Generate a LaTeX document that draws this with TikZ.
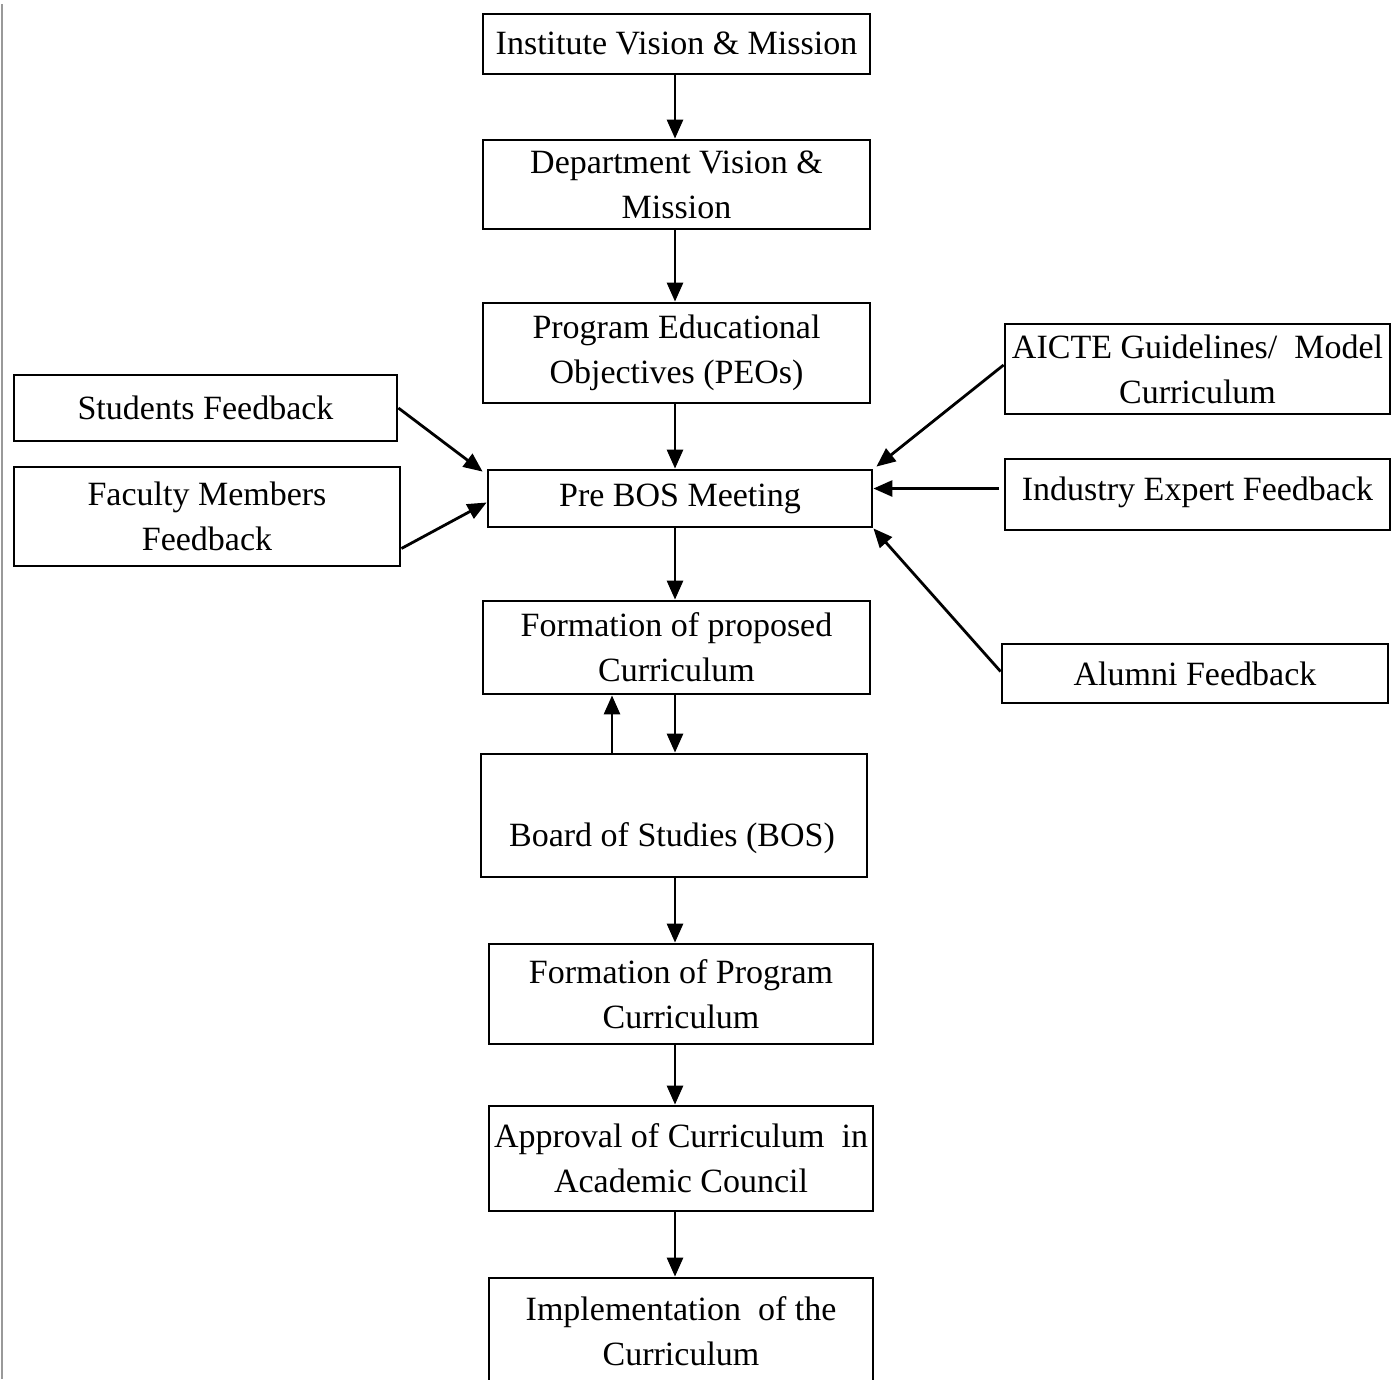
\documentclass[tikz,border=0pt]{standalone}
\usepackage{fontspec}
\setmainfont{Liberation Serif}
\usetikzlibrary{arrows.meta,calc}
\begin{document}
\begin{tikzpicture}[x=1pt,y=-1pt,
  box/.style={draw,line width=2.8pt,inner sep=0pt,align=center,
    font=\fontsize{34}{45}\selectfont},
  link/.style={line width=2.8pt,-{Triangle[length=19pt,width=16pt]}}]
\useasboundingbox (0,0) rectangle (1391,1379);
\clip (0,0) rectangle (1391,1379);
% thin rule along the left edge
\draw[line width=2pt,black!40] (2,4) -- (2,1379);
% main column
\node[box,minimum width=387,minimum height=60] (inst) at (676.5,44) {\raisebox{2pt}{Institute Vision \& Mission}};
\node[box,minimum width=387,minimum height=89] (dept) at (676.5,184.5) {Department Vision \&\\Mission};
\node[box,minimum width=387,minimum height=100] (peo) at (676.5,353) {\raisebox{-3pt}{Program Educational}\\\raisebox{-3pt}{Objectives (PEOs)}};
\node[box,minimum width=384,minimum height=57] (pre) at (680,498.5) {Pre BOS Meeting};
\node[box,minimum width=387,minimum height=93] (prop) at (676.5,647.5) {Formation of proposed\\Curriculum};
\node[box,minimum width=386,minimum height=123] (bos) at (674,815.5) {};
\node[font=\fontsize{34}{45}\selectfont,inner sep=0pt] (bostext) at (672,838) {Board of Studies (BOS)};
\node[box,minimum width=384,minimum height=100] (prog) at (681,994) {Formation of Program\\Curriculum};
\node[box,minimum width=384,minimum height=105] (appr) at (681,1158.5) {Approval of Curriculum\ \ in\\Academic Council};
\node[box,minimum width=384,minimum height=106] (impl) at (681,1331) {Implementation\ \ of the\\Curriculum};
% feedback sources on the left
\node[box,minimum width=383,minimum height=66] (stu) at (205.5,408) {Students Feedback};
\node[box,minimum width=386,minimum height=99] (fac) at (207,516.5) {Faculty Members\\Feedback};
% inputs on the right
\node[box,minimum width=385,minimum height=90] (aicte) at (1197.5,369) {AICTE Guidelines/\ \ Model\\Curriculum};
\node[box,minimum width=385,minimum height=71] (ind) at (1197.5,494.5) {\raisebox{12pt}{Industry Expert Feedback}};
\node[box,minimum width=386,minimum height=59] (alum) at (1195,673.5) {\raisebox{-4pt}{Alumni Feedback}};
% vertical flow
\draw[link] ([xshift=-1.5]inst.south) -- ([xshift=-1.5]dept.north);
\draw[link] ([xshift=-1.5]dept.south) -- ([xshift=-1.5]peo.north);
\draw[link] ([xshift=-1.5]peo.south) -- ([xshift=-1.5]peo.south |- pre.north);
\draw[link] ([xshift=-1.5]prop.north |- pre.south) -- ([xshift=-1.5]prop.north);
\draw[link] ([xshift=-1.5]prop.south) -- ([xshift=-1.5]prop.south |- bos.north);
\draw[link] ([xshift=-62]bos.north) -- ([xshift=-62]bos.north |- prop.south);
\draw[link] ([xshift=1]bos.south) -- ([xshift=1]bos.south |- prog.north);
\draw[link] ([xshift=-6]prog.south) -- ([xshift=-6]appr.north);
\draw[link] ([xshift=-6]appr.south) -- ([xshift=-6]impl.north);
% feedback into the pre-BOS meeting
\draw[link] (stu.east) -- ($(pre.north west)+(-4,3)$);
\draw[link] ($(fac.east)+(0,32)$) -- ($(pre.west)+(0,4)$);
\draw[link] ($(aicte.west)+(0,-4)$) -- ($(pre.north east)+(3,-2)$);
\draw[link] ($(ind.west)+(-5,-6)$) -- ($(pre.east)+(0,-10)$);
\draw[link] ($(alum.west)+(0,-2)$) -- (pre.south east);
\end{tikzpicture}
\end{document}
